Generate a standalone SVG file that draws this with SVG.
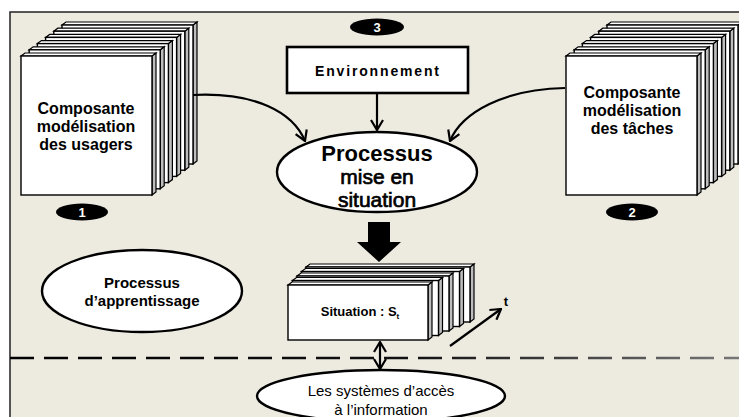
<svg xmlns="http://www.w3.org/2000/svg" xmlns:xlink="http://www.w3.org/1999/xlink" width="739" height="417" viewBox="0 0 739 417">
<style>
.face{fill:#fff;stroke:#000;stroke-width:1.4}
.side{fill:#bdbdbd;stroke:#000;stroke-width:1.2}
.top{fill:#fff;stroke:#000;stroke-width:1.2}
.oval{fill:#fff;stroke:#000;stroke-width:2.4}
.conn{fill:none;stroke:#000;stroke-width:2.2}
.t{font-family:"Liberation Sans",Arial,sans-serif;font-weight:bold;fill:#000;text-anchor:middle}
.n{font-family:"Liberation Sans",Arial,sans-serif;font-weight:normal;fill:#000;text-anchor:middle}
.badge{fill:#000}
.bt{font-family:"Liberation Sans",Arial,sans-serif;font-weight:bold;fill:#fff;font-size:13px;text-anchor:middle}
</style>
<defs>
<marker id="open" viewBox="0 0 12 14" refX="11" refY="7" markerWidth="12" markerHeight="14" markerUnits="userSpaceOnUse" orient="auto-start-reverse">
<path d="M1,1 L11,7 L1,13" fill="none" stroke="#000" stroke-width="2.2"/>
</marker>
<g id="bigpage">
<polygon class="side" points="131,0 135,-3 135,136 131,139"/>
<polygon class="top" points="0,0 4,-3 135,-3 131,0"/>
<rect class="face" x="0" y="0" width="131" height="139"/>
</g>
<linearGradient id="dashg" gradientUnits="userSpaceOnUse" x1="10" y1="0" x2="739" y2="0">
<stop offset="0" stop-color="#000"/>
<stop offset="0.55" stop-color="#111"/>
<stop offset="1" stop-color="#777"/>
</linearGradient>
</defs>
<rect x="0" y="0" width="739" height="417" fill="#fff"/>
<rect x="10" y="12" width="729" height="405" fill="#EDEAE0"/>
<path d="M10,417 V12 H739" fill="none" stroke="#222" stroke-width="1.5"/>

<g id="users">
<use xlink:href="#bigpage" href="#bigpage" x="62" y="25"/>
<use xlink:href="#bigpage" href="#bigpage" x="53.8" y="31.2"/>
<use xlink:href="#bigpage" href="#bigpage" x="45.6" y="37.4"/>
<use xlink:href="#bigpage" href="#bigpage" x="37.4" y="43.6"/>
<use xlink:href="#bigpage" href="#bigpage" x="29.2" y="49.8"/>
<use xlink:href="#bigpage" href="#bigpage" x="21" y="56"/>
<text class="t" font-size="16" x="86" y="114">Composante</text>
<text class="t" font-size="16" x="86" y="132">modélisation</text>
<text class="t" font-size="16" x="86" y="150">des usagers</text>
</g>

<g id="taches">
<use xlink:href="#bigpage" href="#bigpage" x="607" y="25"/>
<use xlink:href="#bigpage" href="#bigpage" x="598.8" y="31.2"/>
<use xlink:href="#bigpage" href="#bigpage" x="590.6" y="37.4"/>
<use xlink:href="#bigpage" href="#bigpage" x="582.4" y="43.6"/>
<use xlink:href="#bigpage" href="#bigpage" x="574.2" y="49.8"/>
<use xlink:href="#bigpage" href="#bigpage" x="566" y="56"/>
<text class="t" font-size="16" x="632" y="98">Composante</text>
<text class="t" font-size="16" x="632" y="116">modélisation</text>
<text class="t" font-size="16" x="632" y="134">des tâches</text>
</g>

<g id="badge1"><ellipse class="badge" cx="82" cy="212" rx="26" ry="8.5"/><text class="bt" x="82" y="217">1</text></g>
<g id="badge2"><ellipse class="badge" cx="632" cy="212" rx="26" ry="8.5"/><text class="bt" x="632" y="217">2</text></g>
<g id="badge3"><ellipse class="badge" cx="377" cy="27" rx="27" ry="8.5"/><text class="bt" x="377" y="32">3</text></g>

<g id="environnement">
<rect x="287" y="47" width="181" height="46" fill="#fff" stroke="#000" stroke-width="2.6"/>
<text class="t" font-size="14" x="377" y="76" textLength="124" lengthAdjust="spacing">Environnement</text>
</g>

<g id="mise-en-situation">
<ellipse class="oval" cx="377" cy="172" rx="100" ry="40"/>
<text class="t" font-size="22" x="377" y="161">Processus</text>
<text class="n" font-size="21" x="377" y="184" stroke="#000" stroke-width="0.7">mise en</text>
<text class="n" font-size="21" x="377" y="207" stroke="#000" stroke-width="0.7">situation</text>
</g>

<g id="apprentissage">
<ellipse class="oval" cx="142" cy="291" rx="100" ry="41" stroke-width="2"/>
<text class="t" font-size="15" x="142" y="288">Processus</text>
<text class="t" font-size="15" x="142" y="306">d’apprentissage</text>
</g>

<g id="situation">
<g>
<polygon class="side" points="470,267 474,264 474,319 470,322"/>
<polygon class="top" points="306,267 310,264 474,264 470,267"/>
<rect class="face" x="306" y="267" width="164" height="55"/>
</g>
<g>
<polygon class="side" points="459.5,271.5 463.5,268.5 463.5,323.5 459.5,326.5"/>
<polygon class="top" points="301.5,271.5 305.5,268.5 463.5,268.5 459.5,271.5"/>
<rect class="face" x="301.5" y="271.5" width="158" height="55"/>
</g>
<g>
<polygon class="side" points="449,276 453,273 453,328 449,331"/>
<polygon class="top" points="297,276 301,273 453,273 449,276"/>
<rect class="face" x="297" y="276" width="152" height="55"/>
</g>
<g>
<polygon class="side" points="438.5,280.5 442.5,277.5 442.5,332.5 438.5,335.5"/>
<polygon class="top" points="292.5,280.5 296.5,277.5 442.5,277.5 438.5,280.5"/>
<rect class="face" x="292.5" y="280.5" width="146" height="55"/>
</g>
<g>
<polygon class="side" points="428,285 432,282 432,337 428,340"/>
<polygon class="top" points="288,285 292,282 432,282 428,285"/>
<rect class="face" x="288" y="285" width="140" height="55"/>
</g>
<text class="t" font-size="13" x="360" y="316">Situation : S<tspan font-size="8" dy="3">t</tspan></text>
</g>

<g id="acces">
<ellipse class="oval" cx="381" cy="396" rx="124" ry="26"/>
<text class="n" font-size="15" x="381" y="396">Les systèmes d’accès</text>
<text class="n" font-size="15" x="381" y="415">à l’information</text>
</g>

<g id="time-label">
<text class="t" font-size="13" x="506" y="306">t</text>
</g>

<g id="connectors">
<path class="conn" d="M193,95 C255,92 293,112 305,141" marker-end="url(#open)"/>
<path class="conn" d="M565,88 C505,89 462,112 450,141" marker-end="url(#open)"/>
<path class="conn" d="M377,93 V130" marker-end="url(#open)"/>
<polygon points="368,222 390,222 390,242 401,242 379,262 357,242 368,242" fill="#000"/>
<path class="conn" d="M380,342 V369" marker-start="url(#open)" marker-end="url(#open)"/>
<path class="conn" d="M450,346 L501,309" stroke-width="1.8" marker-end="url(#open)"/>
<path d="M10,358 H739" fill="none" stroke="url(#dashg)" stroke-width="2.5" stroke-dasharray="24 10"/>
</g>
</svg>
